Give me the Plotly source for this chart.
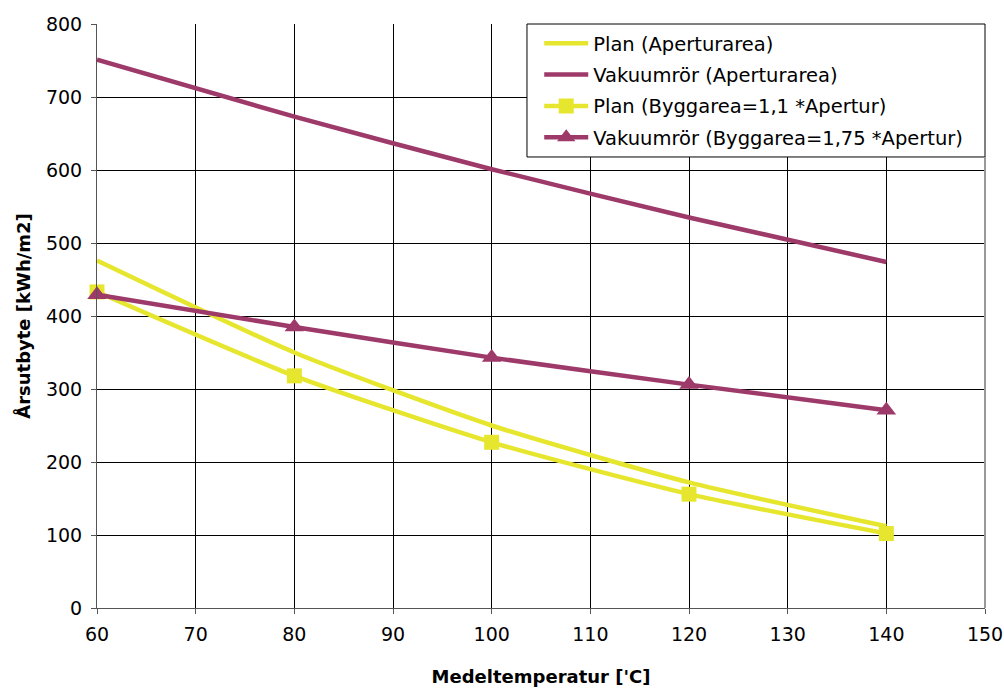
import plotly.graph_objects as go

# Medeltemperatur [°C]
temps = [60, 80, 100, 120, 140]

# Årsutbyte per aperturarea [kWh/m2]
plan_apertur = [476, 350, 250, 172, 112]
vakuum_apertur = [751, 673, 601, 535, 474]

# Årsutbyte per byggarea [kWh/m2]
plan_bygg = [433, 318, 227, 156, 102]
vakuum_bygg = [429, 385, 343, 306, 271]

x_ticks = [60, 70, 80, 90, 100, 110, 120, 130, 140, 150]
y_ticks = [0, 100, 200, 300, 400, 500, 600, 700, 800]

YELLOW = "#E6E62E"
PURPLE = "#9E3A6A"
FONT = "DejaVu Sans, Arial, sans-serif"

fig = go.Figure()
fig.add_trace(go.Scatter(
    x=temps, y=plan_apertur, mode="lines", name="Plan (Aperturarea)", legendgroup="a",
    line=dict(color=YELLOW, width=4.5, shape="spline", smoothing=0.6),
))
fig.add_trace(go.Scatter(
    x=temps, y=vakuum_apertur, mode="lines", name="Vakuumrör (Aperturarea)", legendgroup="b",
    line=dict(color=PURPLE, width=4.5, shape="spline", smoothing=0.6),
))
fig.add_trace(go.Scatter(
    x=temps, y=plan_bygg, mode="lines+markers", name="Plan (Byggarea=1,1 *Apertur)", legendgroup="c",
    line=dict(color=YELLOW, width=4.5, shape="spline", smoothing=0.6),
    marker=dict(symbol="square", size=15, color=YELLOW), cliponaxis=False,
))
fig.add_trace(go.Scatter(
    x=temps, y=vakuum_bygg, mode="lines+markers", name="Vakuumrör (Byggarea=1,75 *Apertur)", legendgroup="d",
    line=dict(color=PURPLE, width=4.5, shape="spline", smoothing=0.6),
    marker=dict(symbol="triangle-up", size=17, color=PURPLE), cliponaxis=False,
))

fig.update_layout(
    width=1004, height=689,
    margin=dict(l=97, r=19, t=24, b=81, autoexpand=False),
    paper_bgcolor="white", plot_bgcolor="white",
    font=dict(family=FONT, size=19, color="black"),
    showlegend=True,
    legend=dict(
        x=0.498, y=1.0, xanchor="left", yanchor="top",
        borderwidth=0, bgcolor="rgba(0,0,0,0)",
        font=dict(size=19.5), tracegroupgap=3, itemwidth=44,
    ),
    xaxis=dict(
        range=[60, 150], tickvals=x_ticks, ticktext=[str(v) for v in x_ticks],
        automargin=False,
        showgrid=True, gridcolor="black", gridwidth=1,
        showline=True, linecolor="#555", linewidth=1, mirror=False,
        ticks="outside", ticklen=5, tickcolor="#555", ticklabelstandoff=4,
        zeroline=False,
        title=dict(text="<b>Medeltemperatur ['C]</b>", font=dict(size=18), standoff=26),
    ),
    yaxis=dict(
        range=[0, 800], tickvals=y_ticks,
        automargin=False,
        showgrid=True, gridcolor="black", gridwidth=1,
        showline=True, linecolor="#555", linewidth=1,
        ticks="outside", ticklen=5, tickcolor="#555", ticklabelstandoff=5,
        zeroline=False,
        title=dict(text="<b>Årsutbyte [kWh/m2]</b>", font=dict(size=18), standoff=10),
    ),
)

# legend frame: white box with black border in the upper-right corner of the plot
fig.add_shape(type="rect", xref="paper", yref="paper", x0=0.4842, x1=1.0, y0=0.7723, y1=1.0,
              fillcolor="white", line=dict(color="black", width=1), layer="above")

# right-hand frame edge of the plot area
fig.add_shape(type="line", xref="paper", yref="paper", x0=1, x1=1, y0=0, y1=0.7723,
              line=dict(color="#999", width=2))

fig.write_html("out.html")
